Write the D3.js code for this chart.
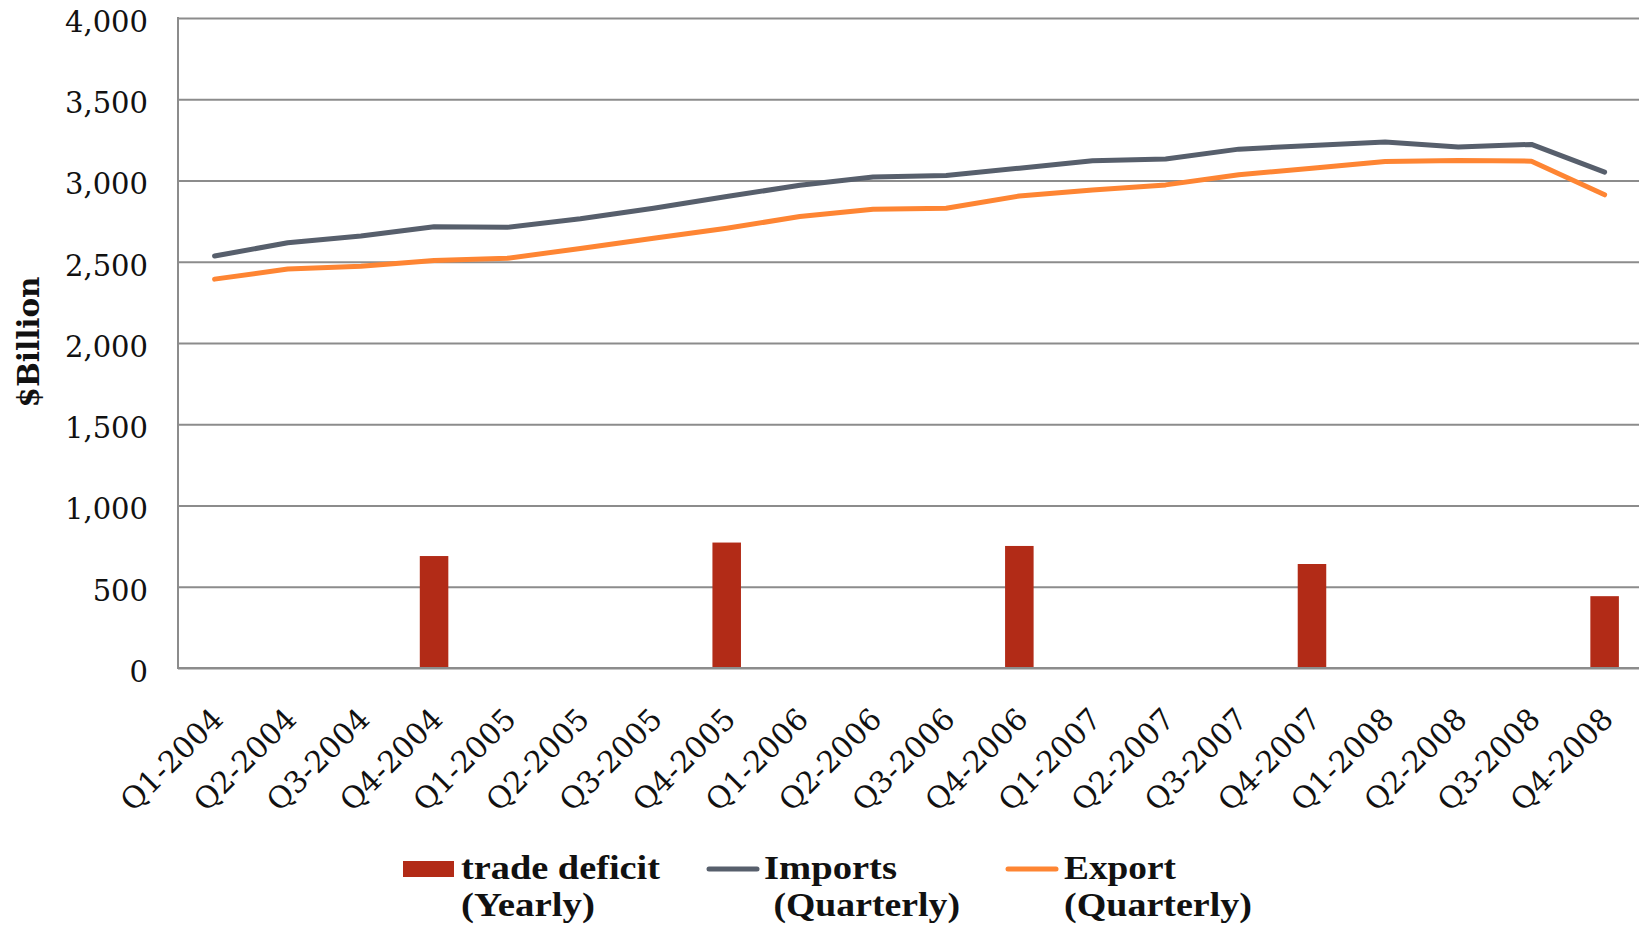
<!DOCTYPE html>
<html>
<head>
<meta charset="utf-8">
<script src="https://cdn.jsdelivr.net/npm/d3@7"></script>
<style>
  html, body { margin: 0; padding: 0; background: #fff; }
  svg { display: block; }
</style>
</head>
<body>
<svg id="chart" width="1639" height="927"></svg>
<script>
// Quarterly categories along the x axis
const categories = [
  "Q1-2004", "Q2-2004", "Q3-2004", "Q4-2004",
  "Q1-2005", "Q2-2005", "Q3-2005", "Q4-2005",
  "Q1-2006", "Q2-2006", "Q3-2006", "Q4-2006",
  "Q1-2007", "Q2-2007", "Q3-2007", "Q4-2007",
  "Q1-2008", "Q2-2008", "Q3-2008", "Q4-2008"
];

// Imports and exports, $ billion (quarterly)
const importsValues = [2535, 2617, 2658, 2716, 2712, 2765, 2829, 2901, 2971, 3021,
                       3031, 3076, 3121, 3132, 3193, 3216, 3237, 3206, 3222, 3051];
const exportValues  = [2393, 2455, 2473, 2508, 2521, 2582, 2644, 2706, 2778, 2823,
                       2829, 2905, 2942, 2973, 3035, 3076, 3117, 3123, 3119, 2912];

// Yearly trade deficit, plotted at each year's fourth quarter
const deficitQuarters = ["Q4-2004", "Q4-2005", "Q4-2006", "Q4-2007", "Q4-2008"];
const deficitValues   = [689, 772, 751, 640, 442];

// Y axis ticks
const yTicks = [0, 500, 1000, 1500, 2000, 2500, 3000, 3500, 4000];

// Legend entries
const legendLines1 = ["trade deficit", "Imports", "Export"];
const legendLines2 = ["(Yearly)", " (Quarterly)", "(Quarterly)"];

const colors = { deficit: "#b22b17", imports: "#575f6c", exports: "#fe8533", grid: "#8c8c8c" };

(function draw() {
  const svg = d3.select("#chart");
  const plotLeft = 178, plotTop = 18, plotBottom = 668;
  const step = 73.16;
  const plotRight = plotLeft + step * categories.length;

  const x = d3.scaleBand().domain(categories).range([plotLeft, plotRight]).padding(0);
  const y = d3.scaleLinear().domain([0, 4000]).range([plotBottom, plotTop]);

  const serif = "'DejaVu Serif', Georgia, serif";

  // Horizontal gridlines with tick labels
  const yAxis = svg.append("g")
    .attr("transform", `translate(${plotLeft},0)`)
    .call(d3.axisLeft(y).tickValues(yTicks).tickFormat(d3.format(","))
      .tickSize(-(plotRight - plotLeft)).tickPadding(30));
  yAxis.select(".domain").remove();
  yAxis.selectAll(".tick line").attr("stroke", colors.grid).attr("stroke-width", 2);
  yAxis.selectAll(".tick text")
    .attr("font-family", serif).attr("font-size", 29).attr("fill", "#111")
    .attr("dy", "0.46em");

  // Left axis line
  svg.append("line")
    .attr("x1", plotLeft).attr("x2", plotLeft).attr("y1", plotTop - 1).attr("y2", plotBottom + 1)
    .attr("stroke", colors.grid).attr("stroke-width", 2);

  // Category labels, rotated
  const xAxis = svg.append("g")
    .attr("transform", `translate(0,${plotBottom})`)
    .call(d3.axisBottom(x).tickSize(0).tickPadding(0));
  xAxis.select(".domain").remove();
  xAxis.selectAll(".tick text")
    .attr("font-family", serif).attr("font-size", 30).attr("fill", "#111")
    .attr("text-anchor", "end")
    .attr("y", 0).attr("dy", 0)
    .attr("transform", "translate(10.5,53) rotate(-45)");

  // Trade deficit bars
  const barW = x.bandwidth() * 0.39;
  svg.append("g").selectAll("rect")
    .data(deficitQuarters.map((q, i) => ({ q, v: deficitValues[i] })))
    .join("rect")
    .attr("x", d => x(d.q) + (x.bandwidth() - barW) / 2)
    .attr("y", d => y(d.v))
    .attr("width", barW)
    .attr("height", d => y(0) - y(d.v))
    .attr("fill", colors.deficit);

  // Zero line over the bars
  svg.append("line")
    .attr("x1", plotLeft).attr("x2", plotRight).attr("y1", y(0)).attr("y2", y(0))
    .attr("stroke", colors.grid).attr("stroke-width", 2);

  const line = d3.line()
    .x((d, i) => x(categories[i]) + x.bandwidth() / 2)
    .y(d => y(d));

  svg.append("path").datum(importsValues)
    .attr("d", line).attr("fill", "none")
    .attr("stroke", colors.imports).attr("stroke-width", 5)
    .attr("stroke-linejoin", "round").attr("stroke-linecap", "round");

  svg.append("path").datum(exportValues)
    .attr("d", line).attr("fill", "none")
    .attr("stroke", colors.exports).attr("stroke-width", 5)
    .attr("stroke-linejoin", "round").attr("stroke-linecap", "round");

  // Y axis title
  svg.append("text")
    .attr("transform", "translate(39,342) rotate(-90)")
    .attr("text-anchor", "middle")
    .attr("font-family", serif).attr("font-weight", "bold").attr("font-size", 30)
    .attr("textLength", 131).attr("lengthAdjust", "spacingAndGlyphs")
    .attr("fill", "#111")
    .text("$Billion");

  // Legend
  const legendFont = "'Liberation Serif', 'Times New Roman', serif";
  const legendItems = [
    { kind: "rect", color: colors.deficit, sx: 403, tx: 461, w1: 199, w2: 134 },
    { kind: "line", color: colors.imports, sx: 707, tx: 764, w1: 133, w2: 196 },
    { kind: "line", color: colors.exports, sx: 1006, tx: 1064, w1: 112, w2: 188 }
  ];
  const lg = svg.append("g");
  legendItems.forEach((it, i) => {
    if (it.kind === "rect") {
      lg.append("rect").attr("x", it.sx).attr("y", 861).attr("width", 51).attr("height", 16).attr("fill", it.color);
    } else {
      lg.append("line").attr("x1", it.sx + 2).attr("x2", it.sx + 50).attr("y1", 869).attr("y2", 869)
        .attr("stroke", it.color).attr("stroke-width", 5).attr("stroke-linecap", "round");
    }
    lg.append("text").attr("x", it.tx).attr("y", 879)
      .attr("font-family", legendFont).attr("font-weight", "bold").attr("font-size", 34).attr("fill", "#111")
      .attr("textLength", it.w1).attr("lengthAdjust", "spacingAndGlyphs")
      .text(legendLines1[i]);
    lg.append("text").attr("x", it.tx).attr("y", 916)
      .attr("font-family", legendFont).attr("font-weight", "bold").attr("font-size", 34).attr("fill", "#111")
      .style("white-space", "pre")
      .attr("textLength", it.w2).attr("lengthAdjust", "spacingAndGlyphs")
      .text(legendLines2[i]);
  });
})();
</script>
</body>
</html>
